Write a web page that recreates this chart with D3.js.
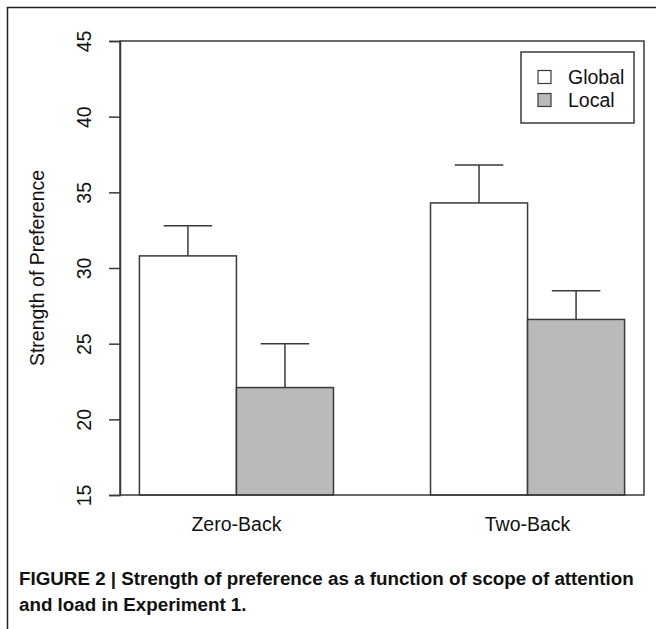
<!DOCTYPE html>
<html>
<head>
<meta charset="utf-8">
<script src="https://cdn.jsdelivr.net/npm/d3@7"></script>
<style>
  html, body { margin: 0; padding: 0; background: #fff; }
  svg { display: block; }
</style>
</head>
<body>
<svg id="chart" width="656" height="629"></svg>
<script>
// Load conditions and attention-scope series
const loads = ["Zero-Back", "Two-Back"];
const scopes = ["Global", "Local"];
const globalMean = [30.8, 34.3];
const globalSE = [2.0, 2.5];
const localMean = [22.1, 26.6];
const localSE = [2.9, 1.9];
const yTicks = [15, 20, 25, 30, 35, 40, 45];
const scopeFill = ["#ffffff", "#bababa"];

const svg = d3.select("#chart");
const stroke = "#3a3a3a";
const font = "'Liberation Sans', Arial, Helvetica, sans-serif";
const fs = 19.5;

// figure frame (left and top edges visible)
svg.append("path")
  .attr("d", "M7.5,629 L7.5,7.5 L656,7.5")
  .attr("fill", "none").attr("stroke", "#222").attr("stroke-width", 1.5);

const plot = { left: 120, right: 644, top: 41, bottom: 495 };

// bar-unit x positions: one unit per bar, one unit gap between groups
const x = d3.scaleLinear().domain([0.8, 6.2]).range([plot.left, plot.right]);
const y = d3.scaleLinear().domain([15, 45]).range([plot.bottom, plot.top]);

const bars = [];
loads.forEach((load, i) => {
  const start = 1 + i * 3;
  bars.push({ load, scope: 0, x0: start, mean: globalMean[i], se: globalSE[i] });
  bars.push({ load, scope: 1, x0: start + 1, mean: localMean[i], se: localSE[i] });
});

const g = svg.append("g");

// error bars (upper only) drawn behind the bars
g.selectAll("line.err").data(bars).enter().append("line")
  .attr("x1", d => x(d.x0 + 0.5)).attr("x2", d => x(d.x0 + 0.5))
  .attr("y1", d => y(d.mean)).attr("y2", d => y(d.mean + d.se))
  .attr("stroke", stroke).attr("stroke-width", 1.5);
g.selectAll("line.cap").data(bars).enter().append("line")
  .attr("x1", d => x(d.x0 + 0.25)).attr("x2", d => x(d.x0 + 0.75))
  .attr("y1", d => y(d.mean + d.se)).attr("y2", d => y(d.mean + d.se))
  .attr("stroke", stroke).attr("stroke-width", 1.5);

g.selectAll("rect.bar").data(bars).enter().append("rect")
  .attr("x", d => x(d.x0)).attr("width", d => x(d.x0 + 1) - x(d.x0))
  .attr("y", d => y(d.mean)).attr("height", d => y(15) - y(d.mean))
  .attr("fill", d => scopeFill[d.scope])
  .attr("stroke", stroke).attr("stroke-width", 1.5);

// plot box
svg.append("rect")
  .attr("x", plot.left).attr("y", plot.top)
  .attr("width", plot.right - plot.left).attr("height", plot.bottom - plot.top)
  .attr("fill", "none").attr("stroke", stroke).attr("stroke-width", 1.5);

// y axis
const yAxis = d3.axisLeft(y).tickValues(yTicks).tickSize(11).tickPadding(0).tickFormat(d3.format("d"));
const ya = svg.append("g").attr("transform", `translate(${plot.left},0)`).call(yAxis);
ya.select(".domain").attr("stroke", stroke).attr("stroke-width", 1.5);
ya.selectAll(".tick line").attr("stroke", stroke).attr("stroke-width", 1.5);
ya.selectAll(".tick text")
  .attr("font-family", font).attr("font-size", fs).attr("fill", "#111")
  .attr("text-anchor", "middle")
  .attr("x", 0).attr("y", 0)
  .attr("transform", "translate(-36,0) rotate(-90)")
  .attr("dy", "0.35em");

// y axis title
svg.append("text")
  .attr("transform", `translate(44,${(plot.top + plot.bottom) / 2}) rotate(-90)`)
  .attr("text-anchor", "middle")
  .attr("font-family", font).attr("font-size", fs).attr("fill", "#111")
  .text("Strength of Preference");

// group labels
svg.selectAll("text.group").data(loads).enter().append("text")
  .attr("x", (d, i) => x(2 + i * 3)).attr("y", 531)
  .attr("text-anchor", "middle")
  .attr("font-family", font).attr("font-size", fs).attr("fill", "#111")
  .text(d => d);

// legend
const leg = svg.append("g");
leg.append("rect").attr("x", 521).attr("y", 52).attr("width", 113).attr("height", 71)
  .attr("fill", "#fff").attr("stroke", stroke).attr("stroke-width", 1.5);
scopes.forEach((s, i) => {
  const cy = 77 + i 
    * 23;
  leg.append("rect").attr("x", 538).attr("y", cy - 6.5).attr("width", 13).attr("height", 13)
    .attr("fill", scopeFill[i]).attr("stroke", stroke).attr("stroke-width", 1.2);
  leg.append("text").attr("x", 568).attr("y", cy).attr("dy", "0.35em")
    .attr("font-family", font).attr("font-size", fs).attr("fill", "#111")
    .text(s);
});

// caption
const cap = svg.append("text")
  .attr("font-family", "'Liberation Sans Narrow', 'Arial Narrow', 'Liberation Sans', Arial, sans-serif")
  .attr("font-weight", "bold").attr("font-size", 18.8).attr("fill", "#111");
cap.append("tspan").attr("x", 19).attr("y", 585)
  .text("FIGURE 2 | Strength of preference as a function of scope of attention");
cap.append("tspan").attr("x", 19).attr("y", 611)
  .text("and load in Experiment 1.");
</script>
</body>
</html>
